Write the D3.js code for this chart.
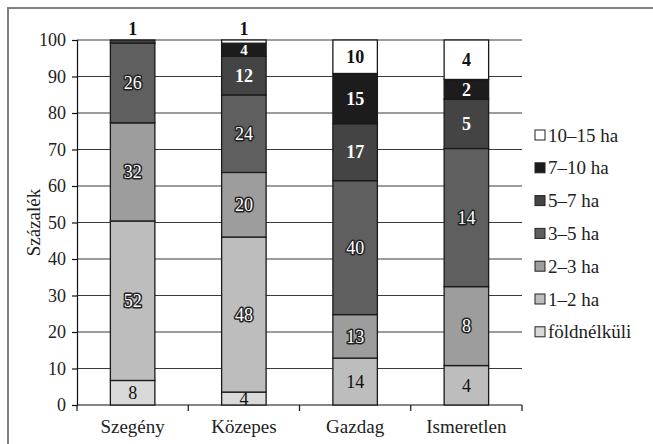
<!DOCTYPE html>
<html>
<head>
<meta charset="utf-8">
<script src="https://cdn.jsdelivr.net/npm/d3@7"></script>
<style>
  body { margin: 0; background: #fff; }
  svg { display: block; }
  svg text { font-family: "Liberation Serif", "DejaVu Serif", serif !important; }
</style>
</head>
<body>
<svg id="chart" width="653" height="444"></svg>
<script>
// counts per land size group (labels), bars are shares of each column total
const categories = ["Szegény", "Közepes", "Gazdag", "Ismeretlen"];
const seriesNames = ["földnélküli", "1–2 ha", "2–3 ha", "3–5 ha", "5–7 ha", "7–10 ha", "10–15 ha"];
const foldnelkuli = [8, 4, 0, 0];
const ha1_2 = [52, 48, 14, 4];
const ha2_3 = [32, 20, 13, 8];
const ha3_5 = [26, 24, 40, 14];
const ha5_7 = [1, 12, 17, 5];
const ha7_10 = [0, 4, 15, 2];
const ha10_15 = [0, 1, 10, 4];
const yTicks = [0, 10, 20, 30, 40, 50, 60, 70, 80, 90, 100];

const colors = ["#d9d9d9", "#bdbdbd", "#9d9d9d", "#5f5f5f", "#444444", "#1c1c1c", "#ffffff"];

const seriesValues = [foldnelkuli, ha1_2, ha2_3, ha3_5, ha5_7, ha7_10, ha10_15];
const rows = categories.map((c, i) => {
  const r = { cat: c };
  seriesNames.forEach((s, j) => { r[s] = seriesValues[j][i]; });
  return r;
});

const svg = d3.select("#chart");

// outer frame (only left/top visible in the crop)
svg.append("rect")
  .attr("x", 8).attr("y", 8)
  .attr("width", 700).attr("height", 500)
  .attr("fill", "none")
  .attr("stroke", "#808080")
  .attr("stroke-width", 2);

const plotLeft = 77, plotRight = 522, plotTop = 40, plotBottom = 405;

const x = d3.scaleBand()
  .domain(categories)
  .range([plotLeft, plotRight])
  .paddingInner(0.6)
  .paddingOuter(0.3);

const y = d3.scaleLinear().domain([0, 100]).range([plotBottom, plotTop]);

const stack = d3.stack().keys(seriesNames).offset(d3.stackOffsetExpand);
const stacked = stack(rows);

// grid
svg.append("g")
  .selectAll("line")
  .data(yTicks.filter((d) => d > 0))
  .join("line")
  .attr("x1", plotLeft).attr("x2", plotRight)
  .attr("y1", (d) => y(d)).attr("y2", (d) => y(d))
  .attr("stroke", "#3a3a3a")
  .attr("stroke-width", 1.2);

// y axis
const yAxis = svg.append("g")
  .attr("transform", `translate(${plotLeft},0)`)
  .call(d3.axisLeft(y).tickValues(yTicks).tickSize(5).tickPadding(6));
yAxis.attr("font-family", null);
yAxis.select(".domain").attr("stroke", "#111").attr("stroke-width", 1.2);
yAxis.selectAll(".tick line").attr("stroke", "#111").attr("stroke-width", 1.2);
yAxis.selectAll("text")
  .attr("font-size", 18)
  .attr("fill", "#222");

// x axis line + ticks at band boundaries
svg.append("line")
  .attr("x1", plotLeft).attr("x2", plotRight)
  .attr("y1", plotBottom).attr("y2", plotBottom)
  .attr("stroke", "#111").attr("stroke-width", 1.2);

const boundaries = d3.range(categories.length + 1).map((i) => plotLeft + i * x.step());
svg.append("g")
  .selectAll("line")
  .data(boundaries)
  .join("line")
  .attr("x1", (d) => d).attr("x2", (d) => d)
  .attr("y1", plotBottom).attr("y2", plotBottom + 6)
  .attr("stroke", "#111").attr("stroke-width", 1.2);

svg.append("g")
  .selectAll("text")
  .data(categories)
  .join("text")
  .attr("x", (d) => x(d) + x.bandwidth() / 2)
  .attr("y", 433)
  .attr("text-anchor", "middle")
  .attr("font-size", 19)
  .attr("fill", "#222")
  .text((d) => d);

// y title
svg.append("text")
  .attr("transform", `translate(40,${(plotTop + plotBottom) / 2}) rotate(-90)`)
  .attr("text-anchor", "middle")
  .attr("font-size", 19)
  .attr("fill", "#222")
  .text("Százalék");

// bars
const layers = svg.append("g")
  .selectAll("g")
  .data(stacked)
  .join("g")
  .attr("fill", (d, i) => colors[i]);

layers.selectAll("rect")
  .data((d) => d.filter((s) => s[1] - s[0] > 0))
  .join("rect")
  .attr("x", (d) => x(d.data.cat))
  .attr("width", x.bandwidth())
  .attr("y", (d) => y(d[1] * 100))
  .attr("height", (d) => y(d[0] * 100) - y(d[1] * 100))
  .attr("stroke", "#1a1a1a")
  .attr("stroke-width", 1.3);

// segment labels
const labels = [];
stacked.forEach((layer, si) => {
  layer.forEach((s) => {
    const v = s.data[layer.key];
    if (!v) return;
    const share = (s[1] - s[0]) * 100;
    const isBottom = s[0] === 0;
    let yPos, style, small = false;
    if (share < 2) {
      // too thin: label sits above the bar
      yPos = y(100) - 11;
      style = "black";
    } else {
      yPos = y((s[0] + s[1]) * 50);
      small = share < 5 && !isBottom;
      if (isBottom) style = "plain";
      else if (si === 6) style = "black";
      else if (si >= 4) style = "white";
      else style = "halo";
    }
    labels.push({ cat: s.data.cat, v, yPos, style, small });
  });
});

svg.append("g")
  .selectAll("text")
  .data(labels)
  .join("text")
  .attr("x", (d) => x(d.cat) + x.bandwidth() / 2)
  .attr("y", (d) => d.yPos)
  .attr("dy", "0.35em")
  .attr("text-anchor", "middle")
  .attr("font-size", (d) => (d.small ? 15 : 18))
  .attr("font-weight", (d) => (d.style === "plain" || d.style === "halo" ? "normal" : "bold"))
  .attr("fill", (d) => (d.style === "white" || d.style === "halo" ? "#fff" : "#111"))
  .attr("stroke", (d) => (d.style === "halo" ? "#222" : "none"))
  .attr("stroke-width", (d) => (d.style === "halo" ? 3 : 0))
  .attr("stroke-linejoin", "round")
  .attr("paint-order", "stroke")
  .text((d) => d.v);

// legend, top to bottom from the largest size group
const legendItems = seriesNames.map((s, i) => ({ s, c: colors[i] })).reverse();
const legend = svg.append("g")
  .selectAll("g")
  .data(legendItems)
  .join("g")
  .attr("transform", (d, i) => `translate(535,${135 + i * 32.8})`);

legend.append("rect")
  .attr("x", 0).attr("y", -5)
  .attr("width", 10).attr("height", 10)
  .attr("fill", (d) => d.c)
  .attr("stroke", "#222")
  .attr("stroke-width", 1);

legend.append("text")
  .attr("x", 13)
  .attr("y", 0)
  .attr("dy", "0.35em")
  .attr("font-size", 19)
  .attr("fill", "#222")
  .text((d) => d.s);
</script>
</body>
</html>
